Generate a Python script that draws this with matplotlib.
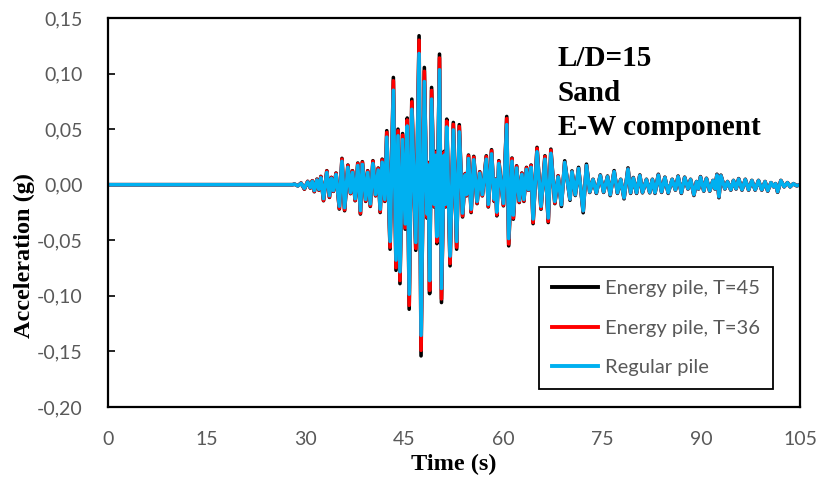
import matplotlib
matplotlib.use("Agg")
import matplotlib.pyplot as plt
import numpy as np

# time axis (s)
time_s = [
    0.0, 28.0,
    28.3, 28.8, 29.3, 29.8, 30.3, 30.7, 31.0, 31.3, 31.7, 32.0,
    32.3, 32.7, 33.2, 33.6, 33.9, 34.2, 34.6, 35.1, 35.5, 35.9,
    36.4, 36.8, 37.1, 37.5, 37.9, 38.3, 38.6, 39.1, 39.4, 39.8,
    40.2, 40.6, 41.0, 41.3, 41.6, 42.0, 42.3, 42.8, 43.3, 43.7,
    44.0, 44.3, 44.7, 45.1, 45.4, 45.7, 46.1, 46.7, 47.2, 47.5,
    48.0, 48.4, 48.6, 48.8, 49.1, 49.5, 49.7, 49.9, 50.3, 50.6,
    51.0, 51.2, 51.4, 51.9, 52.4, 52.9, 53.3, 53.8, 54.2, 54.4,
    54.7, 55.1, 55.5, 56.0, 56.4, 56.8, 57.4, 57.7, 58.2, 58.6,
    58.8, 59.0, 59.3, 60.0, 60.5, 60.8, 61.3, 61.5, 62.0, 62.4,
    62.8, 63.1, 63.5, 63.8, 64.2, 64.5, 65.1, 65.7, 66.3, 66.8,
    67.2, 67.8, 68.3,
    68.8, 69.3, 70.1, 70.4, 70.9, 71.4, 72.1, 72.6, 73.1, 73.6,
    74.1, 74.7, 75.2, 75.8, 76.2, 76.8, 77.3, 77.8, 78.3, 78.9,
    79.3, 79.7, 80.2, 80.7, 81.1, 81.7, 82.2, 82.6, 83.0, 83.5,
    84.0, 84.5, 85.0, 85.6, 86.1, 86.5, 87.0, 87.5, 88.0, 88.4,
    88.9, 89.3, 89.6, 89.9, 90.4, 90.8, 91.3, 91.8, 92.1, 92.4,
    92.7, 93.0, 93.6, 94.0, 94.5, 94.9, 95.3, 95.7, 96.2, 96.7,
    97.2, 97.7, 98.2, 98.7, 99.2, 99.7, 100.1, 100.6, 101.0, 101.3,
    101.6, 102.1, 102.6, 103.1, 103.5, 104.0, 104.5, 105.0,
]

# acceleration (g) - energy pile, T=45
acc_t45 = [
    0.0, 0.0,
    0.0005, -0.0010, 0.0015, -0.0040, 0.0030, -0.0030, 0.0036, -0.0063, 0.0050, -0.0050,
    0.0075, -0.0144, 0.0126, -0.0114, 0.0066, -0.0060, 0.0105, -0.0219, 0.0237, -0.0234,
    0.0177, -0.0080, 0.0126, -0.0144, 0.0195, -0.0264, 0.0207, -0.0150, 0.0126, -0.0195,
    0.0216, -0.0100, 0.0150, -0.0250, 0.0230, -0.0150, 0.0486, -0.0580, 0.0965, -0.0770,
    0.0500, -0.0890, 0.0460, -0.0400, 0.0600, -0.1120, 0.0770, -0.0590, 0.1340, -0.1540,
    0.1055, -0.0300, 0.0200, -0.0980, 0.0875, -0.0200, 0.0300, -0.0530, 0.1175, -0.1060,
    0.0300, -0.0200, 0.0590, -0.0730, 0.0560, -0.0580, 0.0540, -0.0290, 0.0100, -0.0100,
    0.0267, -0.0250, 0.0255, -0.0170, 0.0117, -0.0100, 0.0260, -0.0200, 0.0315, -0.0150,
    0.0050, -0.0280, 0.0216, -0.0190, 0.0614, -0.0550, 0.0240, -0.0310, 0.0170, -0.0160,
    0.0105, -0.0150, 0.0156, -0.0050, 0.0177, -0.0350, 0.0336, -0.0220, 0.0260, -0.0340,
    0.0320, -0.0170, 0.0080,
    -0.0195, 0.0215, -0.0140, 0.0124, -0.0097, 0.0156, -0.0252, 0.0185, -0.0070, 0.0049,
    -0.0078, 0.0088, -0.0069, 0.0078, -0.0098, 0.0127, -0.0078, 0.0049, -0.0127, 0.0151,
    -0.0078, 0.0065, -0.0078, 0.0088, -0.0073, 0.0049, -0.0073, 0.0049, -0.0078, 0.0094,
    -0.0069, 0.0068, -0.0078, 0.0049, -0.0049, 0.0078, -0.0078, 0.0068, -0.0039, 0.0049,
    -0.0097, 0.0029, -0.0039, 0.0073, -0.0058, 0.0058, -0.0058, 0.0039, -0.0039, 0.0094,
    -0.0117, 0.0086, -0.0039, 0.0029, -0.0049, 0.0039, -0.0039, 0.0055, -0.0049, 0.0049,
    -0.0049, 0.0039, -0.0049, 0.0039, -0.0049, 0.0029, -0.0058, 0.0019, -0.0019, 0.0010,
    -0.0068, 0.0039, -0.0019, 0.0019, -0.0019, 0.0010, -0.0010, 0.0,
]

# acceleration (g) - energy pile, T=36
acc_t36 = [
    0.0, 0.0,
    0.0005, -0.0010, 0.0015, -0.0038, 0.0029, -0.0029, 0.0035, -0.0060, 0.0048, -0.0048,
    0.0072, -0.0140, 0.0122, -0.0110, 0.0064, -0.0058, 0.0102, -0.0212, 0.0230, -0.0226,
    0.0172, -0.0078, 0.0122, -0.0140, 0.0189, -0.0256, 0.0200, -0.0145, 0.0122, -0.0189,
    0.0210, -0.0097, 0.0145, -0.0242, 0.0223, -0.0145, 0.0470, -0.0562, 0.0935, -0.0746,
    0.0485, -0.0862, 0.0446, -0.0388, 0.0582, -0.1085, 0.0746, -0.0572, 0.1300, -0.1490,
    0.1020, -0.0290, 0.0194, -0.0950, 0.0848, -0.0194, 0.0290, -0.0514, 0.1140, -0.1027,
    0.0290, -0.0194, 0.0572, -0.0708, 0.0543, -0.0562, 0.0523, -0.0281, 0.0097, -0.0097,
    0.0259, -0.0242, 0.0247, -0.0165, 0.0113, -0.0097, 0.0252, -0.0194, 0.0305, -0.0145,
    0.0048, -0.0271, 0.0209, -0.0184, 0.0595, -0.0533, 0.0233, -0.0300, 0.0165, -0.0155,
    0.0102, -0.0145, 0.0151, -0.0048, 0.0172, -0.0339, 0.0326, -0.0213, 0.0252, -0.0330,
    0.0310, -0.0165, 0.0078,
    -0.0180, 0.0200, -0.0130, 0.0115, -0.0090, 0.0145, -0.0235, 0.0172, -0.0065, 0.0045,
    -0.0072, 0.0082, -0.0064, 0.0072, -0.0090, 0.0118, -0.0072, 0.0045, -0.0118, 0.0140,
    -0.0072, 0.0060, -0.0072, 0.0082, -0.0068, 0.0045, -0.0068, 0.0045, -0.0072, 0.0087,
    -0.0064, 0.0063, -0.0072, 0.0045, -0.0045, 0.0072, -0.0072, 0.0063, -0.0036, 0.0045,
    -0.0090, 0.0027, -0.0036, 0.0068, -0.0054, 0.0054, -0.0054, 0.0036, -0.0036, 0.0087,
    -0.0108, 0.0080, -0.0036, 0.0027, -0.0045, 0.0036, -0.0036, 0.0051, -0.0045, 0.0045,
    -0.0045, 0.0036, -0.0045, 0.0036, -0.0045, 0.0027, -0.0054, 0.0018, -0.0018, 0.0009,
    -0.0063, 0.0036, -0.0018, 0.0018, -0.0018, 0.0009, -0.0009, 0.0,
]

# acceleration (g) - regular pile
acc_regular = [
    0.0, 0.0,
    0.0005, -0.0010, 0.0012, -0.0032, 0.0025, -0.0025, 0.0030, -0.0052, 0.0042, -0.0042,
    0.0063, -0.0125, 0.0110, -0.0098, 0.0057, -0.0052, 0.0092, -0.0193, 0.0210, -0.0206,
    0.0156, -0.0070, 0.0110, -0.0126, 0.0172, -0.0232, 0.0182, -0.0132, 0.0110, -0.0172,
    0.0190, -0.0088, 0.0132, -0.0220, 0.0202, -0.0132, 0.0428, -0.0510, 0.0850, -0.0678,
    0.0440, -0.0783, 0.0405, -0.0352, 0.0528, -0.0985, 0.0678, -0.0519, 0.1180, -0.1355,
    0.0928, -0.0264, 0.0176, -0.0862, 0.0770, -0.0176, 0.0264, -0.0466, 0.1034, -0.0933,
    0.0264, -0.0176, 0.0519, -0.0642, 0.0493, -0.0510, 0.0475, -0.0255, 0.0088, -0.0088,
    0.0235, -0.0220, 0.0224, -0.0150, 0.0103, -0.0088, 0.0229, -0.0176, 0.0277, -0.0132,
    0.0044, -0.0246, 0.0190, -0.0167, 0.0540, -0.0484, 0.0211, -0.0273, 0.0150, -0.0141,
    0.0092, -0.0132, 0.0137, -0.0044, 0.0156, -0.0308, 0.0296, -0.0194, 0.0229, -0.0299,
    0.0282, -0.0150, 0.0070,
    -0.0180, 0.0200, -0.0130, 0.0115, -0.0090, 0.0145, -0.0235, 0.0172, -0.0065, 0.0045,
    -0.0072, 0.0082, -0.0064, 0.0072, -0.0090, 0.0118, -0.0072, 0.0045, -0.0118, 0.0140,
    -0.0072, 0.0060, -0.0072, 0.0082, -0.0068, 0.0045, -0.0068, 0.0045, -0.0072, 0.0087,
    -0.0064, 0.0063, -0.0072, 0.0045, -0.0045, 0.0072, -0.0072, 0.0063, -0.0036, 0.0045,
    -0.0090, 0.0027, -0.0036, 0.0068, -0.0054, 0.0054, -0.0054, 0.0036, -0.0036, 0.0087,
    -0.0108, 0.0080, -0.0036, 0.0027, -0.0045, 0.0036, -0.0036, 0.0051, -0.0045, 0.0045,
    -0.0045, 0.0036, -0.0045, 0.0036, -0.0045, 0.0027, -0.0054, 0.0018, -0.0018, 0.0009,
    -0.0063, 0.0036, -0.0018, 0.0018, -0.0018, 0.0009, -0.0009, 0.0,
]

series_labels = ["Energy pile, T=45", "Energy pile, T=36", "Regular pile"]
series_colors = ["#000000", "#FF0000", "#00B0F0"]

x_ticks = [0, 15, 30, 45, 60, 75, 90, 105]
y_ticks = [-0.20, -0.15, -0.10, -0.05, 0.00, 0.05, 0.10, 0.15]

info_lines = ["L/D=15", "Sand", "E-W component"]

tick_font = "Lato"
serif_font = "Liberation Serif"

fig = plt.figure(figsize=(8.17, 4.82), dpi=100)
ax = fig.add_axes([108 / 817, 1 - 407 / 482, 692 / 817, 389 / 482])

t = np.array(time_s)
for vals, lab, col in zip([acc_t45, acc_t36, acc_regular], series_labels, series_colors):
    ax.plot(t, np.array(vals), color=col, lw=2.6, label=lab, solid_joinstyle="round")

ax.set_xlim(0, 105)
ax.set_ylim(-0.20, 0.15)
ax.set_xticks(x_ticks)
ax.set_yticks(y_ticks)
ax.set_xticklabels([str(v) for v in x_ticks])
ax.set_yticklabels([f"{v:.2f}".replace(".", ",") for v in y_ticks])

ax.tick_params(axis="y", direction="in", length=5, width=1.2, pad=18,
               labelsize=14, labelcolor="#595959")
ax.tick_params(axis="x", length=0, pad=17, labelsize=14, labelcolor="#595959")
for lbl in ax.get_xticklabels() + ax.get_yticklabels():
    lbl.set_family(tick_font)

for sp in ax.spines.values():
    sp.set_color("black")
    sp.set_linewidth(1.6)

ax.set_xlabel("Time (s)", family=serif_font, fontweight="bold", fontsize=17.5)
ax.set_ylabel("Acceleration (g)", family=serif_font, fontweight="bold", fontsize=17.5)
ax.xaxis.set_label_coords(0.5, -0.12)
ax.yaxis.set_label_coords(-0.105, 0.39)

for i, line in enumerate(info_lines):
    ax.text(0.65, 0.895 - i * 0.088, line, transform=ax.transAxes,
            family=serif_font, fontweight="bold", fontsize=21, va="center", ha="left")

leg = ax.legend(loc="upper left", bbox_to_anchor=(0.608, 0.385), frameon=True,
                fancybox=False, framealpha=1, edgecolor="black",
                prop={"family": tick_font, "size": 14.5}, handlelength=2.3,
                handletextpad=0.35, labelspacing=1.1, borderpad=0.65)
leg.get_frame().set_linewidth(1.3)
for txt in leg.get_texts():
    txt.set_color("#595959")
for h in leg.get_lines():
    h.set_linewidth(2.8)

fig.savefig("out.png", dpi=100)
